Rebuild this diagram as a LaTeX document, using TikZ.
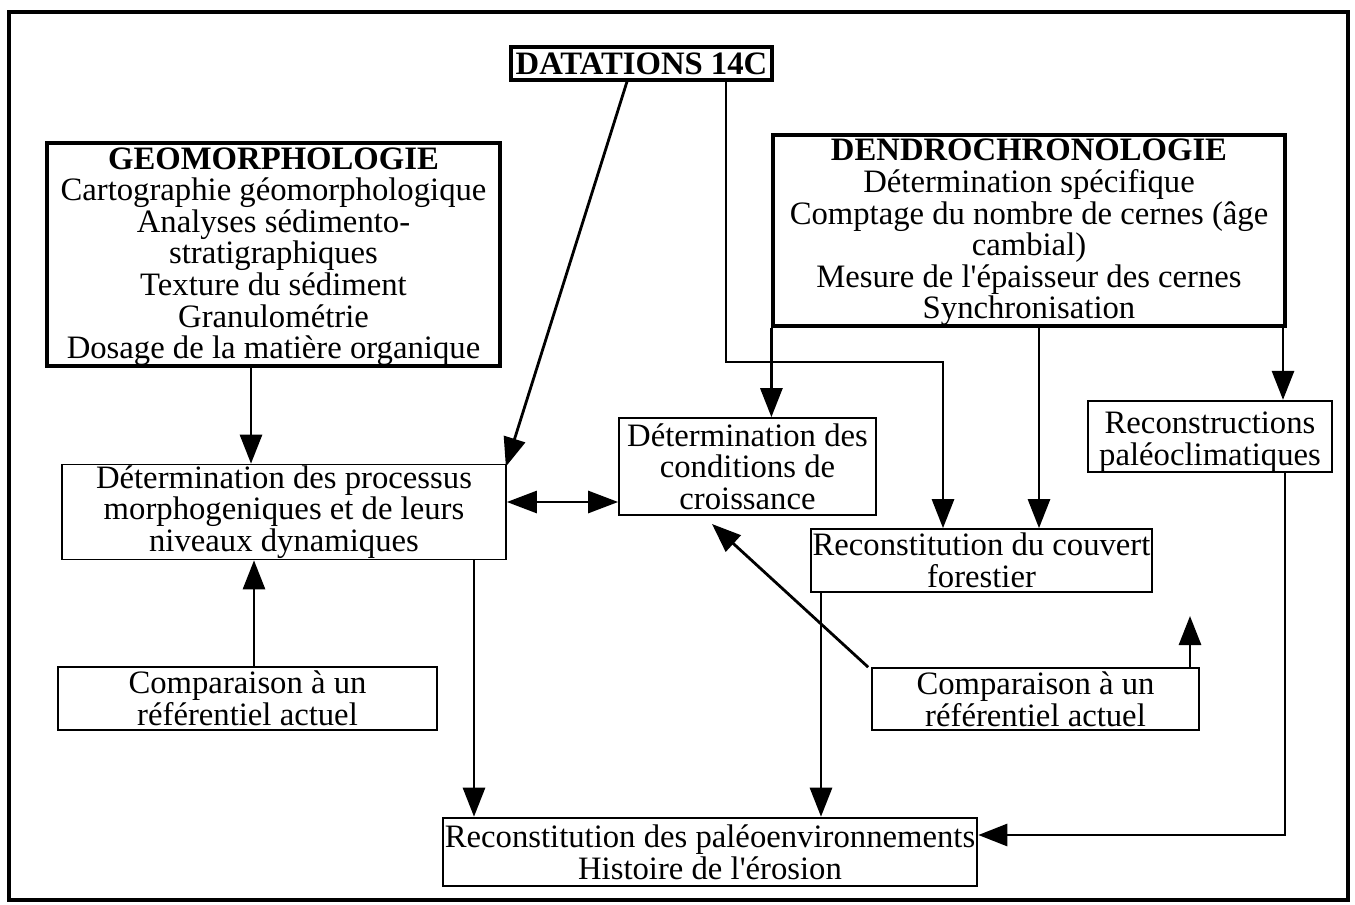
\documentclass[tikz,border=0pt]{standalone}
\usepackage{fontspec}
\setmainfont{Liberation Serif}
\usetikzlibrary{arrows.meta}
\begin{document}
\begin{tikzpicture}[x=1pt,y=-1pt,
  box/.style={draw, line width=1.7pt, inner sep=0pt, align=center, font=\fontsize{32.7}{31.6}\selectfont},
  heavy/.style={box, line width=3.2pt},
  conn/.style={line width=2.8pt, -{Triangle[length=29pt,width=22pt]}},
  dconn/.style={line width=2.8pt, {Triangle[length=30pt,width=22pt]}-{Triangle[length=30pt,width=22pt]}},
]
\useasboundingbox (0,0) rectangle (1355,905);
\draw[line width=3.4pt] (9,12) rectangle (1348,900);

% boxes
\node[heavy, minimum width=261pt, minimum height=33pt] (dat) at (641.5,63.5) {\textbf{DATATIONS 14C}};
\node[heavy, minimum width=453pt, minimum height=223pt] (geo) at (273.5,254.5)
  {\rule{0pt}{26pt}\textbf{GEOMORPHOLOGIE}\\Cartographie géomorphologique\\Analyses sédimento-\\stratigraphiques\\Texture du sédiment\\Granulométrie\\Dosage de la matière organique};
\node[heavy, minimum width=512pt, minimum height=191pt] (den) at (1029,230.5)
  {\rule{0pt}{26pt}\textbf{DENDROCHRONOLOGIE}\\Détermination spécifique\\Comptage du nombre de cernes (âge\\cambial)\\Mesure de l\textquotesingle épaisseur des cernes\\Synchronisation};
\node[box, minimum width=444pt, minimum height=95pt] (proc) at (284,512)
  {Détermination des processus\\morphogeniques et de leurs\\niveaux dynamiques};
\node[box, minimum width=257pt, minimum height=97pt] (cond) at (747.5,466.5)
  {Détermination des\\conditions de\\croissance};
\node[box, minimum width=244pt, minimum height=63pt] (recl) at (1210,436.5)
  {\rule{0pt}{33pt}Reconstructions\\paléoclimatiques};
\node[box, minimum width=341pt, minimum height=63pt] (couv) at (981.5,560.5)
  {Reconstitution du couvert\\forestier};
\node[box, minimum width=379pt, minimum height=63pt] (compL) at (247.5,698.5)
  {Comparaison à un\\référentiel actuel};
\node[box, minimum width=327pt, minimum height=62pt] (compR) at (1035.5,699)
  {Comparaison à un\\référentiel actuel};
\node[box, line width=2.6pt, minimum width=534pt, minimum height=68pt] (paleo) at (710,852)
  {Reconstitution des paléoenvironnements\\Histoire de l\textquotesingle érosion};

% helper coordinates
\coordinate (xa) at (251,0);
\coordinate (xb) at (254,0);
\coordinate (xc) at (474,0);
\coordinate (xd) at (821,0);
\coordinate (xe) at (1039,0);
\coordinate (xf) at (1283,0);
\coordinate (xg) at (1190,0);
\coordinate (ya) at (0,502);
\coordinate (j1) at (726,362);
\coordinate (j2) at (943,362);
\coordinate (rc) at (1285,835);
\coordinate (tcond) at (712,524);
\coordinate (tup) at (1190,616);

% connectors
\draw[conn] (geo.south -| xa) -- (proc.north -| xa);
\draw[conn] ([xshift=-14.5pt]dat.south) -- ([xshift=-1pt,yshift=-3pt]proc.north east);
\draw[conn] (dat.south -| j1) -- (j1) -- (j2) -- (couv.north -| j2);
\draw[conn] (den.south west) -- (cond.north -| den.south west);
\draw[conn] (den.south -| xe) -- (couv.north -| xe);
\draw[conn] (den.south -| xf) -- (recl.north -| xf);
\draw[dconn] (proc.east |- ya) -- (cond.west |- ya);
\draw[conn] (compL.north -| xb) -- (proc.south -| xb);
\draw[conn] (proc.south -| xc) -- (paleo.north -| xc);
\draw[conn] (couv.south -| xd) -- (paleo.north -| xd);
\draw[conn] ([xshift=-3pt]compR.north west) -- (tcond);
\draw[conn] (compR.north -| xg) -- (tup);
\draw[conn] (recl.south -| rc) -- (rc) -- (paleo.east |- rc);
\end{tikzpicture}
\end{document}
